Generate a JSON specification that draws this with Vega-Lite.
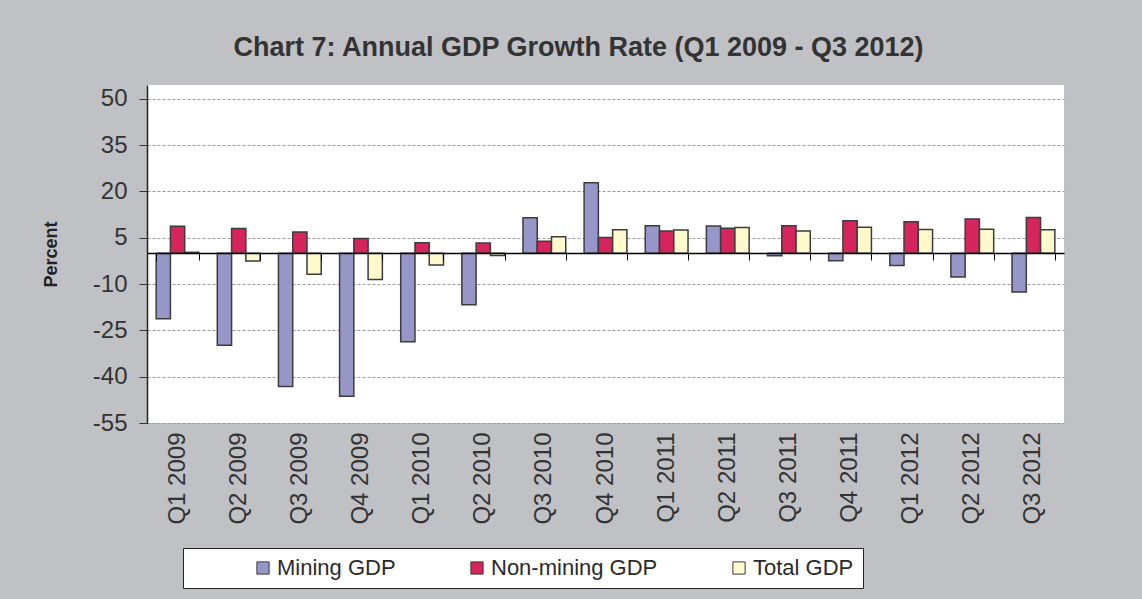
{
  "$schema": "https://vega.github.io/schema/vega-lite/v6.json",
  "width": 917,
  "height": 338,
  "autosize": {"type": "none"},
  "padding": {"left": 147, "top": 85, "right": 78, "bottom": 176},
  "background": "#c0c1c5",
  "title": {
    "text": "Chart 7: Annual GDP Growth Rate (Q1 2009 - Q3 2012)",
    "font": "Liberation Sans",
    "fontSize": 27,
    "fontWeight": "bold",
    "color": "#333333",
    "anchor": "middle",
    "dx": -27,
    "offset": 23
  },
  "config": {"view": {"fill": "white", "stroke": null}},
  "data": {
    "values": [
      {"quarter": "Q1 2009", "series": "Mining GDP", "value": -21.2},
      {"quarter": "Q1 2009", "series": "Non-mining GDP", "value": 8.7},
      {"quarter": "Q1 2009", "series": "Total GDP", "value": 0.3},
      {"quarter": "Q2 2009", "series": "Mining GDP", "value": -29.8},
      {"quarter": "Q2 2009", "series": "Non-mining GDP", "value": 8.0},
      {"quarter": "Q2 2009", "series": "Total GDP", "value": -2.5},
      {"quarter": "Q3 2009", "series": "Mining GDP", "value": -43.2},
      {"quarter": "Q3 2009", "series": "Non-mining GDP", "value": 6.9},
      {"quarter": "Q3 2009", "series": "Total GDP", "value": -6.8},
      {"quarter": "Q4 2009", "series": "Mining GDP", "value": -46.3},
      {"quarter": "Q4 2009", "series": "Non-mining GDP", "value": 4.8},
      {"quarter": "Q4 2009", "series": "Total GDP", "value": -8.5},
      {"quarter": "Q1 2010", "series": "Mining GDP", "value": -28.7},
      {"quarter": "Q1 2010", "series": "Non-mining GDP", "value": 3.4},
      {"quarter": "Q1 2010", "series": "Total GDP", "value": -3.8},
      {"quarter": "Q2 2010", "series": "Mining GDP", "value": -16.7},
      {"quarter": "Q2 2010", "series": "Non-mining GDP", "value": 3.3},
      {"quarter": "Q2 2010", "series": "Total GDP", "value": -0.7},
      {"quarter": "Q3 2010", "series": "Mining GDP", "value": 11.5},
      {"quarter": "Q3 2010", "series": "Non-mining GDP", "value": 3.9},
      {"quarter": "Q3 2010", "series": "Total GDP", "value": 5.3},
      {"quarter": "Q4 2010", "series": "Mining GDP", "value": 22.8},
      {"quarter": "Q4 2010", "series": "Non-mining GDP", "value": 5.1},
      {"quarter": "Q4 2010", "series": "Total GDP", "value": 7.6},
      {"quarter": "Q1 2011", "series": "Mining GDP", "value": 8.9},
      {"quarter": "Q1 2011", "series": "Non-mining GDP", "value": 7.2},
      {"quarter": "Q1 2011", "series": "Total GDP", "value": 7.5},
      {"quarter": "Q2 2011", "series": "Mining GDP", "value": 8.8},
      {"quarter": "Q2 2011", "series": "Non-mining GDP", "value": 8.1},
      {"quarter": "Q2 2011", "series": "Total GDP", "value": 8.3},
      {"quarter": "Q3 2011", "series": "Mining GDP", "value": -0.8},
      {"quarter": "Q3 2011", "series": "Non-mining GDP", "value": 8.9},
      {"quarter": "Q3 2011", "series": "Total GDP", "value": 7.2},
      {"quarter": "Q4 2011", "series": "Mining GDP", "value": -2.4},
      {"quarter": "Q4 2011", "series": "Non-mining GDP", "value": 10.5},
      {"quarter": "Q4 2011", "series": "Total GDP", "value": 8.4},
      {"quarter": "Q1 2012", "series": "Mining GDP", "value": -4.0},
      {"quarter": "Q1 2012", "series": "Non-mining GDP", "value": 10.2},
      {"quarter": "Q1 2012", "series": "Total GDP", "value": 7.7},
      {"quarter": "Q2 2012", "series": "Mining GDP", "value": -7.7},
      {"quarter": "Q2 2012", "series": "Non-mining GDP", "value": 11.1},
      {"quarter": "Q2 2012", "series": "Total GDP", "value": 7.8},
      {"quarter": "Q3 2012", "series": "Mining GDP", "value": -12.6},
      {"quarter": "Q3 2012", "series": "Non-mining GDP", "value": 11.6},
      {"quarter": "Q3 2012", "series": "Total GDP", "value": 7.6}
    ]
  },
  "layer": [
    {
      "mark": {"type": "bar", "stroke": "#3c3c3c", "strokeWidth": 1.5},
      "encoding": {
        "x": {
          "field": "quarter",
          "type": "nominal",
          "sort": null,
          "scale": {"paddingInner": 0.3, "paddingOuter": 0.15},
          "axis": {
            "orient": "bottom",
            "title": null,
            "domain": false,
            "ticks": false,
            "labelAngle": -90,
            "labelFont": "Liberation Sans",
            "labelFontSize": 24,
            "labelColor": "#333333",
            "labelPadding": 9
          }
        },
        "xOffset": {
          "field": "series",
          "type": "nominal",
          "sort": ["Mining GDP", "Non-mining GDP", "Total GDP"],
          "scale": {"paddingInner": 0, "paddingOuter": 0}
        },
        "y": {
          "field": "value",
          "type": "quantitative",
          "scale": {"domain": [-55, 54.5], "nice": false},
          "axis": {
            "values": [-55, -40, -25, -10, 5, 20, 35, 50],
            "labelExpr": "datum.value + ''",
            "title": "Percent",
            "titleFont": "Liberation Sans",
            "titleFontSize": 18,
            "titleFontWeight": "bold",
            "titleColor": "#222222",
            "titlePadding": 32,
            "labelFont": "Liberation Sans",
            "labelFontSize": 24,
            "labelColor": "#333333",
            "labelPadding": 12,
            "tickSize": 8,
            "tickColor": "#333333",
            "domainColor": "#222222",
            "domainWidth": 1.5,
            "grid": true,
            "gridColor": "#999999",
            "gridDash": [3, 2],
            "gridWidth": 1
          }
        },
        "color": {
          "field": "series",
          "type": "nominal",
          "scale": {
            "domain": ["Mining GDP", "Non-mining GDP", "Total GDP"],
            "range": ["#9696c8", "#d6255d", "#fff9cc"]
          },
          "legend": {
            "orient": "none",
            "legendX": 36,
            "legendY": 463,
            "direction": "horizontal",
            "title": " ",
            "titleOrient": "left",
            "titlePadding": 60,
            "fillColor": "white",
            "strokeColor": "#222222",
            "padding": 9,
            "labelFont": "Liberation Sans",
            "labelFontSize": 22,
            "labelColor": "#2a2a2a",
            "labelLimit": 400,
            "labelOffset": 3,
            "labelExpr": "datum.label == 'Total GDP' ? 'Total GDP\u00a0\u00a0\u00a0\u00a0\u00a0\u00a0\u00a0\u00a0\u00a0' : datum.label",
            "symbolType": "square",
            "symbolSize": 150,
            "symbolStrokeColor": "#3c3c3c",
            "symbolStrokeWidth": 1,
            "columnPadding": 70,
            "gridAlign": "each"
          }
        }
      }
    },
    {
      "mark": {"type": "bar", "opacity": 0},
      "encoding": {
        "x": {
          "field": "quarter",
          "type": "nominal",
          "sort": null,
          "axis": {
            "orient": "bottom",
            "offset": -170,
            "labels": false,
            "title": null,
            "domainColor": "#000000",
            "domainWidth": 1.5,
            "tickColor": "#000000",
            "tickSize": 7,
            "tickWidth": 1,
            "tickBand": "extent",
            "zindex": 2
          }
        }
      }
    }
  ],
  "resolve": {"axis": {"x": "independent"}}
}
